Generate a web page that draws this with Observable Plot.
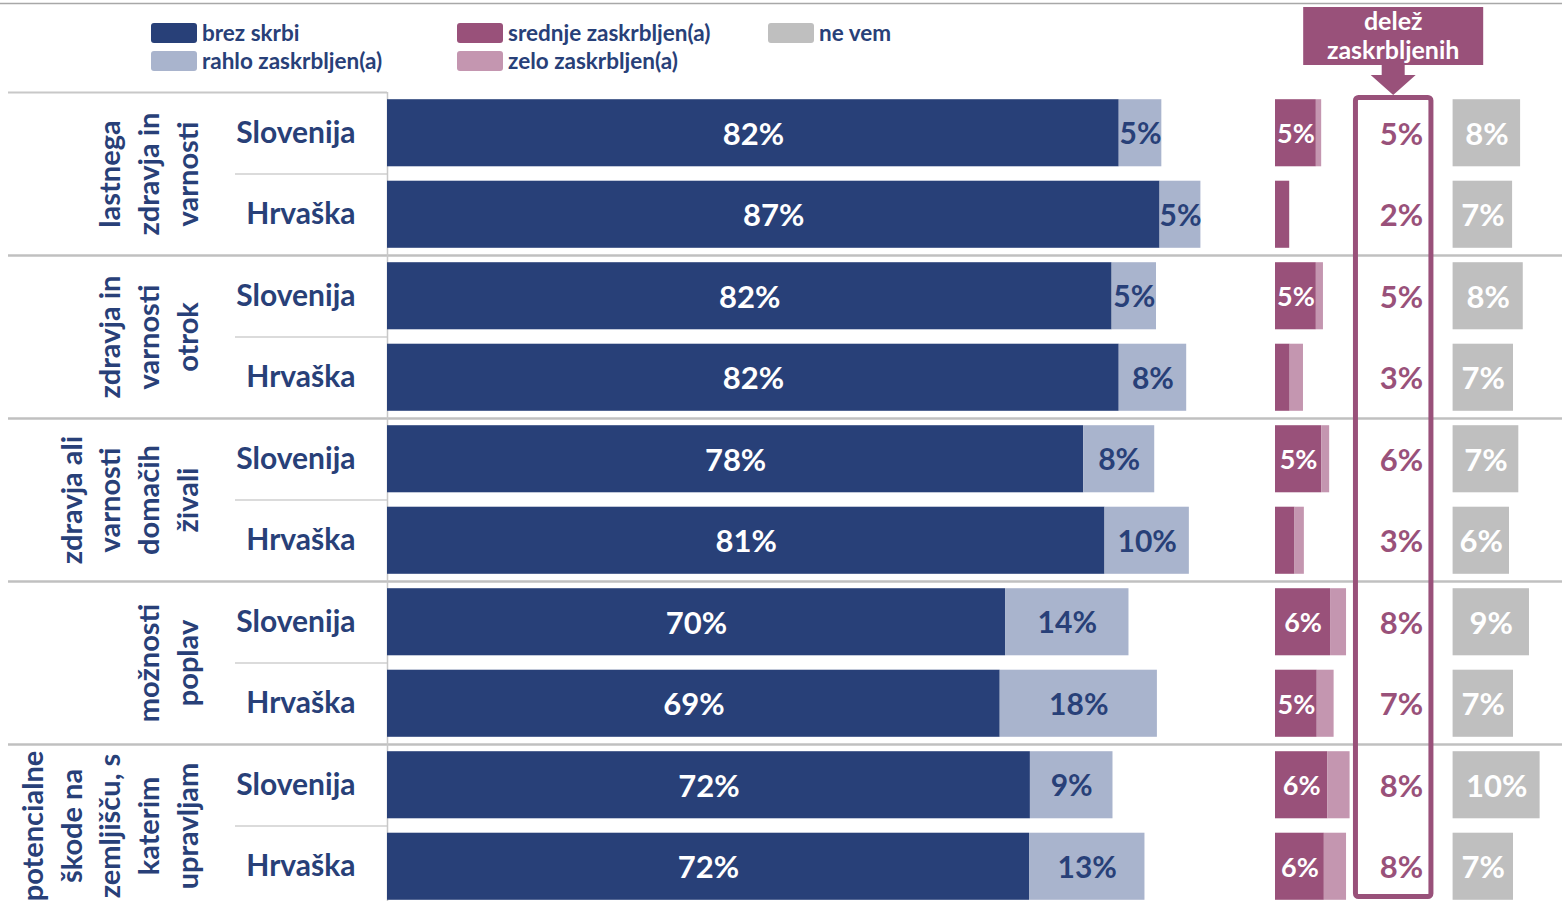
<!DOCTYPE html>
<html>
<head>
<meta charset="utf-8">
<script src="https://cdn.jsdelivr.net/npm/d3@7"></script>
<script src="https://cdn.jsdelivr.net/npm/@observablehq/plot@0.6"></script>
<style>
html, body { margin: 0; padding: 0; background: #fff; overflow: hidden; }
#wrap { position: relative; width: 1562px; height: 901px; overflow: hidden; }
</style>
</head>
<body>
<div id="wrap"></div>
<script>
// ---------- data ----------
const groups = [
  "lastnega\nzdravja in\nvarnosti",
  "zdravja in\nvarnosti\notrok",
  "zdravja ali\nvarnosti\ndomačih\nživali",
  "možnosti\npoplav",
  "potencialne\nškode na\nzemljišču, s\nkaterim\nupravljam"
];
const countries = ["Slovenija", "Hrvaška"];
// shares in %, order: group × country
const brezSkrbi = [82.4, 87.0, 81.6, 82.4, 78.4, 80.8, 69.6, 69.0, 72.4, 72.3];
const rahlo     = [4.8, 4.6, 5.0, 7.6, 8.0, 9.5, 13.9, 17.7, 9.3, 13.0];
const srednje   = [4.6, 1.6, 4.6, 1.65, 5.2, 2.2, 6.2, 4.7, 5.9, 5.5];
const zelo      = [0.6, 0, 0.8, 1.5, 0.9, 1.05, 1.8, 1.9, 2.5, 2.5];
const neVem     = [7.6, 6.7, 7.9, 6.8, 7.4, 6.35, 8.6, 6.8, 9.8, 6.8];
const legendLabels = ["brez skrbi", "rahlo zaskrbljen(a)", "srednje zaskrbljen(a)", "zelo zaskrbljen(a)", "ne vem"];
const headerLines = ["delež", "zaskrbljenih"];

// ---------- style ----------
const colors = ["#284078", "#a9b4cd", "#99517a", "#c496b0", "#bfbfbf"];
const navy = "#284078", purple = "#99517a";
const font = "Lato, 'Open Sans', sans-serif";

// ---------- layout ----------
const W = 1562, H = 907;
const X0 = 387;            // left edge of plotting frame
const K = 8.88;            // px per percentage point
const xMax = (W - X0) / K;
const SMALL_OFF = 100;     // start of "zaskrbljen" mini bars (in % units from frame)
const NEVEM_OFF = 120;     // start of "ne vem" bars
const DELEZ_X = 116.63;    // right edge of share labels
const LEFT_EDGE = (8 - X0) / K;
const COUNTRY_LINE = (235 - X0) / K;
const HALF = 40.75;        // half band step
const LDY = 1.5;           // slight downward shift of numeric labels

const pct = v => Math.round(v) + "%";

const rows = [];
groups.forEach((g, gi) => countries.forEach((c, ci) => {
  const i = gi * 2 + ci;
  rows.push({i, gi, country: c, brez: brezSkrbi[i], rahlo: rahlo[i], srednje: srednje[i], zelo: zelo[i], neVem: neVem[i]});
}));
const groupRows = groups.map((g, gi) => ({i: gi * 2, label: g}));

const chart = Plot.plot({
  width: W, height: H,
  marginLeft: X0, marginRight: 0, marginTop: 92, marginBottom: 0,
  style: {fontFamily: font, background: "white", overflow: "visible"},
  x: {domain: [0, xMax], axis: null},
  y: {domain: d3.range(rows.length), axis: null, paddingInner: 0.177, paddingOuter: 0.0885, round: false},
  marks: [
    // separators
    Plot.ruleY([0], {y: d => d, dy: -HALF, x1: () => LEFT_EDGE, x2: () => 0, stroke: "#c8c8c8", strokeWidth: 2}),
    Plot.ruleY([1, 3, 5, 7], {y: d => d, dy: HALF, x1: () => LEFT_EDGE, x2: () => xMax, stroke: "#c0c0c0", strokeWidth: 2.5}),
    Plot.ruleY([0, 2, 4, 6, 8], {y: d => d, dy: HALF, x1: () => COUNTRY_LINE, x2: () => 0, stroke: "#cfcfcf", strokeWidth: 1.5}),
    Plot.ruleX([0], {stroke: "#c8c8c8", strokeWidth: 1.5}),
    // main bars
    Plot.barX(rows, {y: "i", x1: () => 0, x2: "brez", fill: colors[0]}),
    Plot.barX(rows, {y: "i", x1: "brez", x2: d => d.brez + d.rahlo, fill: colors[1]}),
    // worried mini bars
    Plot.barX(rows, {y: "i", x1: () => SMALL_OFF, x2: d => SMALL_OFF + d.srednje, fill: colors[2]}),
    Plot.barX(rows.filter(d => d.zelo > 0), {y: "i", x1: d => SMALL_OFF + d.srednje, x2: d => SMALL_OFF + d.srednje + d.zelo, fill: colors[3]}),
    // don't know
    Plot.barX(rows, {y: "i", x1: () => NEVEM_OFF, x2: d => NEVEM_OFF + d.neVem, fill: colors[4]}),
    // labels
    Plot.text(rows, {y: "i", x: d => d.brez / 2, dy: LDY, text: d => pct(d.brez), fill: "white", fontSize: 31, fontWeight: "bold"}),
    Plot.text(rows, {y: "i", x: d => d.brez + d.rahlo / 2, dy: LDY, text: d => pct(d.rahlo), fill: navy, fontSize: 30, fontWeight: "bold"}),
    Plot.text(rows.filter(d => d.srednje >= 4), {y: "i", x: d => SMALL_OFF + d.srednje / 2, dy: LDY, text: d => pct(d.srednje), fill: "white", fontSize: 27, fontWeight: "bold"}),
    Plot.text(rows, {y: "i", x: () => DELEZ_X, dy: LDY, text: d => pct(d.srednje + d.zelo), textAnchor: "end", fill: purple, fontSize: 31, fontWeight: "bold"}),
    Plot.text(rows, {y: "i", x: d => NEVEM_OFF + d.neVem / 2, dy: LDY, text: d => pct(d.neVem), fill: "white", fontSize: 31, fontWeight: "bold"}),
    // row labels
    Plot.text(rows, {y: "i", text: "country", frameAnchor: "left", dx: -32, textAnchor: "end", fill: navy, fontSize: 30, fontWeight: "bold"}),
    Plot.text(groupRows, {y: "i", text: "label", frameAnchor: "left", dx: -190, dy: HALF, rotate: -90,
      textAnchor: "middle", lineAnchor: "bottom", lineHeight: 1.33, fill: navy, fontSize: 29, fontWeight: "bold"})
  ]
});

document.getElementById("wrap").appendChild(chart);

// ---------- decorations ----------
const svg = d3.select(chart);
const sx = chart.scale("x");

// top border line
svg.append("line").attr("x1", 0).attr("x2", W).attr("y1", 3.5).attr("y2", 3.5)
  .attr("stroke", "#a8a8a8").attr("stroke-width", 1.5);

// legend
const legendPos = [[151, 33], [151, 61], [457, 33], [457, 61], [768, 33]];
const lg = svg.append("g").attr("font-family", font).attr("font-weight", "bold").attr("font-size", 22.5)
  .attr("text-anchor", "start");
legendLabels.forEach((lab, k) => {
  const [lx, ly] = legendPos[k];
  lg.append("rect").attr("x", lx).attr("y", ly - 10).attr("width", 46).attr("height", 20)
    .attr("rx", 3).attr("fill", colors[k]);
  lg.append("text").attr("x", lx + 51).attr("y", ly).attr("dy", "0.36em").attr("text-anchor", "start")
    .attr("fill", navy).text(lab);
});

// share box outline
const bx1 = sx.apply(109.06), bx2 = sx.apply(117.56);
svg.append("rect").attr("x", bx1).attr("y", 97.5).attr("width", bx2 - bx1).attr("height", 799)
  .attr("rx", 3).attr("fill", "none").attr("stroke", purple).attr("stroke-width", 5);

// header box with arrow
const hcx = (bx1 + bx2) / 2;
const hg = svg.append("g");
hg.append("rect").attr("x", hcx - 90).attr("y", 7).attr("width", 180).attr("height", 58).attr("fill", purple);
hg.append("rect").attr("x", hcx - 11.5).attr("y", 64).attr("width", 23).attr("height", 12).attr("fill", purple);
hg.append("path").attr("d", `M${hcx - 22.5},75 L${hcx + 22.5},75 L${hcx},95 Z`).attr("fill", purple);
hg.append("text").attr("x", hcx).attr("y", 30).attr("text-anchor", "middle")
  .attr("font-family", font).attr("font-weight", "bold").attr("font-size", 25).attr("fill", "white").text(headerLines[0]);
hg.append("text").attr("x", hcx).attr("y", 59).attr("text-anchor", "middle")
  .attr("font-family", font).attr("font-weight", "bold").attr("font-size", 25).attr("fill", "white").text(headerLines[1]);
</script>
</body>
</html>
